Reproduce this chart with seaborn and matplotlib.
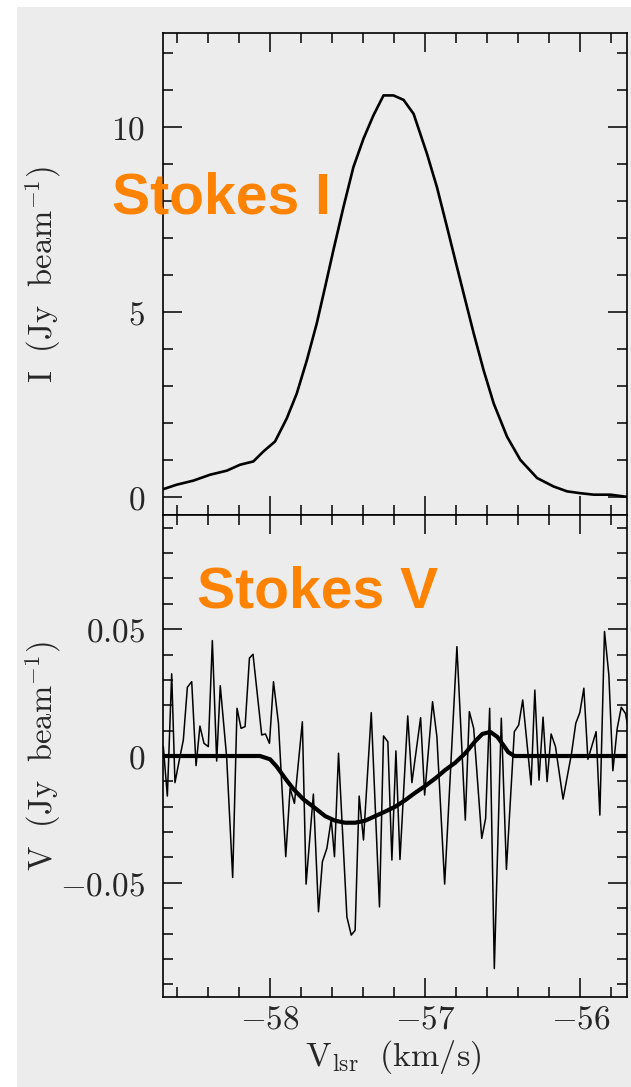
import numpy as np
import pandas as pd
import matplotlib
matplotlib.use("Agg")
import matplotlib.pyplot as plt
from matplotlib.patches import Rectangle
from matplotlib.ticker import MultipleLocator, FuncFormatter
import seaborn as sns

# ---- Stokes I spectrum (Jy/beam) ----
vel_i = [-58.688, -58.602, -58.495, -58.387, -58.279, -58.194, -58.108, -58.043,
         -57.968, -57.892, -57.828, -57.763, -57.699, -57.645, -57.592, -57.527,
         -57.463, -57.398, -57.334, -57.269, -57.205, -57.140, -57.075, -56.989,
         -56.925, -56.860, -56.796, -56.753, -56.688, -56.624, -56.559, -56.473,
         -56.387, -56.279, -56.172, -56.086, -56.000, -55.914, -55.806, -55.699]
stokes_i = [0.20, 0.32, 0.43, 0.59, 0.70, 0.86, 0.95, 1.22,
            1.49, 2.12, 2.79, 3.69, 4.69, 5.68, 6.67, 7.84,
            8.92, 9.69, 10.32, 10.86, 10.86, 10.74, 10.36, 9.28,
            8.38, 7.30, 6.22, 5.50, 4.42, 3.42, 2.52, 1.62,
            0.99, 0.50, 0.27, 0.14, 0.09, 0.05, 0.05, -0.01]

# ---- Stokes V spectrum (Jy/beam) ----
vel_v = [-58.688, -58.662, -58.634, -58.613, -58.585, -58.559, -58.533, -58.505,
         -58.477, -58.452, -58.426, -58.398, -58.372, -58.344, -58.321, -58.280,
         -58.241, -58.213, -58.187, -58.161, -58.133, -58.110, -58.054, -58.030,
         -58.004, -57.978, -57.946, -57.899, -57.871, -57.843, -57.792, -57.768,
         -57.721, -57.688, -57.663, -57.634, -57.606, -57.585, -57.559, -57.505,
         -57.477, -57.452, -57.426, -57.398, -57.348, -57.295, -57.269, -57.241,
         -57.215, -57.189, -57.163, -57.113, -57.086, -57.030, -57.004, -56.953,
         -56.925, -56.875, -56.796, -56.742, -56.716, -56.688, -56.636, -56.611,
         -56.585, -56.555, -56.510, -56.477, -56.426, -56.398, -56.372, -56.318,
         -56.294, -56.267, -56.241, -56.215, -56.189, -56.161, -56.112, -56.058,
         -56.030, -56.004, -55.978, -55.952, -55.899, -55.875, -55.845, -55.817,
         -55.791, -55.763, -55.737, -55.710, -55.688]
stokes_v = [0.0037, -0.0158, 0.0324, -0.0105, -0.0016, 0.0063, 0.0271, 0.0293,
            -0.0038, 0.0118, 0.0050, 0.0037, 0.0455, -0.0020, 0.0277, -0.0003,
            -0.0479, 0.0188, 0.0109, 0.0116, 0.0386, 0.0401, 0.0083, 0.0087,
            0.0050, 0.0293, 0.0129, -0.0397, -0.0128, -0.0187, 0.0135, -0.0505,
            -0.0150, -0.0614, -0.0417, -0.0364, -0.0250, -0.0397, 0.0011, -0.0634,
            -0.0706, -0.0687, -0.0158, -0.0331, 0.0171, -0.0595, 0.0079, 0.0056,
            -0.0410, 0.0020, -0.0408, 0.0158, -0.0105, 0.0151, -0.0154, 0.0214,
            0.0076, -0.0505, 0.0431, -0.0253, 0.0175, 0.0109, -0.0325, -0.0246,
            0.0188, -0.0838, 0.0149, -0.0447, 0.0096, 0.0122, 0.0221, -0.0114,
            0.0260, -0.0095, 0.0153, -0.0101, 0.0087, 0.0037, -0.0170, 0.0008,
            0.0129, 0.0171, 0.0267, -0.0013, 0.0096, -0.0233, 0.0491, 0.0320,
            -0.0058, 0.0109, 0.0192, 0.0168, 0.0096]

# ---- Zeeman model fit to Stokes V ----
vel_fit = [-58.700, -58.065, -58.000, -57.957, -57.903, -57.850, -57.785, -57.721,
           -57.645, -57.581, -57.516, -57.452, -57.387, -57.323, -57.258, -57.194,
           -57.129, -57.065, -57.000, -56.935, -56.871, -56.806, -56.742, -56.677,
           -56.632, -56.581, -56.535, -56.497, -56.465, -56.426, -55.690]
v_fit = [0.0, 0.0, -0.0013, -0.0042, -0.0088, -0.0130, -0.0171, -0.0200,
         -0.0237, -0.0255, -0.0263, -0.0263, -0.0255, -0.0237, -0.0219, -0.0200,
         -0.0174, -0.0145, -0.0118, -0.0088, -0.0055, -0.0026, 0.0011, 0.0059,
         0.0087, 0.0095, 0.0075, 0.0043, 0.0015, 0.0, 0.0]

x_ticks_major = [-58, -57, -56]
i_ticks_major = [0, 5, 10]
v_ticks_major = [-0.05, 0.0, 0.05]

BG = "#ececec"
ORANGE = "#ff8200"

sns.set_style("ticks")
plt.rcParams.update({
    "font.family": ["DejaVu Serif"],
    "mathtext.fontset": "cm",
    "axes.linewidth": 1.2,
    "axes.edgecolor": "black",
})

fig = plt.figure(figsize=(6.31, 10.87), dpi=100, facecolor="white")
fig.patches.append(Rectangle((17 / 631, 0), 1 - 17 / 631, 1 - 7 / 1087,
                             transform=fig.transFigure, facecolor=BG,
                             edgecolor="none", zorder=-10))

left, width = 163 / 631, 464 / 631
ax_i = fig.add_axes([left, 1 - 515 / 1087, width, 482 / 1087])
ax_v = fig.add_axes([left, 1 - 997 / 1087, width, 482 / 1087], sharex=ax_i)

df_i = pd.DataFrame({"vel": vel_i, "flux": stokes_i})
df_v = pd.DataFrame({"vel": vel_v, "flux": stokes_v})
df_fit = pd.DataFrame({"vel": vel_fit, "flux": v_fit})

sns.lineplot(data=df_i, x="vel", y="flux", ax=ax_i, color="black",
             linewidth=1.9, estimator=None, sort=False)
sns.lineplot(data=df_v, x="vel", y="flux", ax=ax_v, color="black",
             linewidth=1.1, estimator=None, sort=False)
sns.lineplot(data=df_fit, x="vel", y="flux", ax=ax_v, color="black",
             linewidth=3.0, estimator=None, sort=False)

math_fmt = FuncFormatter(lambda val, pos: r"$%g$" % val)

for ax in (ax_i, ax_v):
    ax.set_facecolor(BG)
    ax.set_xlim(-58.69, -55.70)
    ax.xaxis.set_major_locator(MultipleLocator(1))
    ax.xaxis.set_minor_locator(MultipleLocator(0.2))
    ax.tick_params(which="both", direction="in", top=True, right=True,
                   bottom=True, left=True, width=1.1, color="black",
                   labelsize=24)
    ax.tick_params(axis="y", which="major", pad=13)
    ax.tick_params(axis="x", which="major", pad=5)
    ax.tick_params(which="major", length=14)
    ax.tick_params(which="minor", length=7)
    ax.xaxis.set_major_formatter(math_fmt)
    ax.yaxis.set_major_formatter(math_fmt)
    for sp in ax.spines.values():
        sp.set_visible(True)
        sp.set_linewidth(1.2)

ax_i.set_ylim(-0.5, 12.55)
ax_i.set_yticks(i_ticks_major)
ax_i.yaxis.set_minor_locator(MultipleLocator(1))
ax_i.tick_params(axis="x", labelbottom=False)

ax_v.set_ylim(-0.095, 0.095)
ax_v.set_yticks(v_ticks_major)
ax_v.yaxis.set_minor_locator(MultipleLocator(0.01))
ax_v.set_xticks(x_ticks_major)

ax_i.set_xlabel("")
ax_i.set_ylabel(r"$\mathrm{I\ \ (Jy\ \ beam^{-1})}$", fontsize=23.5)
ax_v.set_ylabel(r"$\mathrm{V\ \ (Jy\ \ beam^{-1})}$", fontsize=23.5)
ax_v.set_xlabel(r"$\mathrm{V_{lsr}\ \ (km/s)}$", fontsize=24.5)
for ax in (ax_i, ax_v):
    ax.yaxis.label.set_va("center")
    ax.yaxis.set_label_coords(-0.259, 0.5)
ax_v.xaxis.label.set_va("center")
ax_v.xaxis.set_label_coords(0.497, -0.124)

fig.text(112 / 631, 1 - 214 / 1087, "Stokes I", color=ORANGE,
         fontsize=41, fontweight="bold", family="Liberation Sans",
         ha="left", va="baseline", zorder=5)
fig.text(197 / 631, 1 - 607 / 1087, "Stokes V", color=ORANGE,
         fontsize=41, fontweight="bold", family="Liberation Sans",
         ha="left", va="baseline", zorder=5)

fig.savefig("out.png", dpi=100, facecolor=fig.get_facecolor())
